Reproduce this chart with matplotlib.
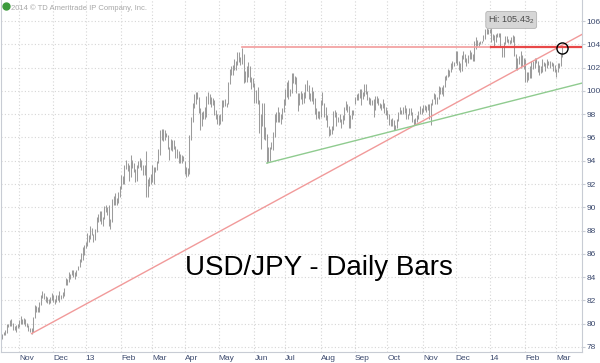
import numpy as np
import pandas as pd
import matplotlib
matplotlib.use('Agg')
import matplotlib.pyplot as plt

plt.rcParams['font.family'] = ['Liberation Sans', 'DejaVu Sans']
plt.rcParams['mathtext.fontset'] = 'custom'
plt.rcParams['mathtext.rm'] = 'Liberation Sans'

# trading days covered by the chart (weekdays only)
start, end = '2012-10-15', '2014-03-07'

# daily lows / highs, one line per month
lows = [
    78.4, 78.6, 78.7, 79.0, 79.0, 79.2, 79.7, 79.8, 79.8, 79.5, 79.5, 79.3, 79.6,  # Oct 12
    79.7, 80.0, 80.0, 80.0, 79.8, 79.7, 79.4, 79.3, 79.1, 79.3, 80.5, 81.0, 81.0, 81.0, 81.6, 82.2, 82.1, 81.9, 81.8, 81.7, 81.8, 82.0,  # Nov
    81.9, 81.7, 81.9, 82.0, 81.9, 82.1, 82.2, 82.4, 83.3, 83.3, 83.6, 83.8, 84.2, 84.0, 83.8, 84.1, 84.6, 84.9, 85.3, 85.5, 85.9,  # Dec
    86.5, 86.7, 87.0, 87.3, 87.6, 87.0, 87.2, 87.9, 88.7, 88.8, 88.6, 88.4, 89.0, 89.6, 89.3, 88.4, 88.1, 88.7, 90.2, 90.2, 90.2, 90.4, 90.9,  # Jan 13
    91.6, 92.0, 92.0, 93.3, 93.1, 92.3, 92.6, 93.4, 93.0, 92.2, 92.3, 93.4, 93.5, 93.2, 92.8, 92.8, 90.9, 90.9, 91.8, 92.0,  # Feb
    92.2, 92.0, 93.0, 93.2, 93.8, 94.5, 95.8, 95.7, 95.8, 96.0, 95.0, 94.1, 94.9, 94.8, 95.0, 94.2, 94.2, 93.8, 93.8, 93.8, 94.0,  # Mar
    92.9, 92.6, 92.7, 92.9, 95.8, 97.3, 98.5, 98.9, 99.3, 98.1, 96.6, 97.0, 97.6, 97.6, 97.8, 98.9, 98.9, 98.6, 98.8, 97.9, 97.6, 97.2,  # Apr
    97.1, 97.2, 97.4, 98.6, 98.7, 98.6, 98.9, 100.6, 101.4, 101.4, 101.8, 101.8, 102.2, 102.5, 102.2, 102.3, 100.7, 100.8, 100.8, 101.2, 100.8, 100.2, 100.3,  # May
    99.0, 99.0, 98.9, 96.4, 95.0, 97.0, 95.9, 95.8, 93.8, 93.9, 94.0, 95.0, 94.9, 96.0, 97.3, 97.3, 97.3, 97.2, 97.6, 98.2,  # Jun
    98.8, 99.5, 99.3, 99.6, 99.8, 100.7, 100.6, 99.8, 98.3, 98.8, 99.3, 98.9, 99.0, 99.4, 100.0, 99.3, 99.1, 99.1, 98.9, 98.0, 97.6, 97.7, 97.6,  # Jul
    97.8, 98.8, 97.8, 97.5, 96.9, 96.1, 96.2, 96.3, 96.6, 97.8, 97.0, 97.3, 97.3, 96.8, 97.2, 97.5, 98.4, 98.2, 96.8, 96.8, 97.6, 97.9,  # Aug
    98.9, 99.2, 99.2, 99.4, 98.8, 99.3, 99.6, 99.7, 99.2, 98.9, 98.8, 98.8, 97.8, 98.4, 99.0, 98.8, 98.5, 98.4, 98.5, 98.1, 97.9,  # Sep
    97.6, 97.1, 97.0, 97.0, 96.6, 96.6, 96.8, 97.4, 98.0, 98.0, 98.0, 98.1, 97.6, 97.6, 97.9, 97.9, 97.3, 97.1, 97.1, 97.3, 97.6, 98.0, 98.0,  # Oct
    98.2, 98.4, 98.2, 98.4, 97.6, 97.1, 98.8, 99.3, 98.9, 98.9, 99.3, 99.7, 99.7, 99.6, 100.3, 100.9, 101.2, 101.3, 101.6, 101.9, 102.1,  # Nov
    102.4, 102.2, 101.8, 101.6, 101.7, 102.7, 102.5, 102.1, 102.4, 102.7, 102.7, 102.6, 102.6, 103.6, 103.9, 103.9, 104.0, 104.1, 104.3, 104.5, 104.9, 104.9,  # Dec
    105.0, 104.2, 104.4, 103.9, 104.2, 104.6, 104.6, 103.8, 102.9, 102.9, 104.0, 104.2, 104.1, 104.0, 104.1, 104.2, 103.0, 101.9, 101.8, 102.3, 102.0, 102.1, 101.9,  # Jan 14
    100.8, 100.75, 100.9, 101.1, 101.1, 101.9, 102.0, 102.4, 101.6, 101.4, 101.5, 101.6, 102.1, 101.7, 102.0, 102.2, 102.0, 102.1, 101.7, 101.6,  # Feb
    101.2, 101.6, 102.0, 102.1, 102.9,  # Mar
]
highs = [
    78.9, 78.9, 79.1, 79.3, 79.5, 80.0, 80.0, 80.3, 80.4, 80.1, 79.8, 79.9, 80.0,
    80.3, 80.7, 80.4, 80.5, 80.4, 80.1, 79.9, 79.6, 79.6, 80.6, 81.6, 81.5, 81.4, 81.9, 82.5, 82.8, 82.6, 82.4, 82.3, 82.1, 82.3, 82.6,
    82.5, 82.1, 82.5, 82.5, 82.8, 82.5, 82.7, 83.1, 83.9, 83.8, 84.4, 84.3, 84.6, 84.6, 84.4, 84.6, 85.0, 85.6, 86.1, 86.6, 86.8,
    87.0, 87.8, 87.6, 88.4, 88.2, 87.7, 88.1, 89.2, 89.4, 89.7, 89.7, 89.2, 90.1, 90.2, 90.0, 90.2, 89.0, 90.7, 91.0, 91.2, 90.8, 91.3, 91.8,
    92.8, 92.7, 93.6, 94.1, 93.8, 93.6, 94.5, 94.1, 93.8, 93.3, 93.6, 94.0, 94.2, 94.1, 93.6, 93.6, 94.8, 92.4, 92.6, 92.9,
    93.6, 93.5, 93.5, 94.0, 95.0, 96.6, 96.7, 96.7, 96.6, 96.4, 96.2, 95.2, 95.9, 95.8, 95.8, 95.3, 95.0, 94.8, 94.6, 94.5, 94.4,
    94.0, 93.5, 93.4, 96.2, 97.8, 99.0, 99.7, 99.9, 99.9, 99.5, 98.5, 98.2, 98.3, 98.6, 99.6, 99.9, 99.7, 99.5, 99.4, 99.2, 98.4, 98.0,
    97.9, 98.0, 99.2, 99.2, 99.3, 99.0, 100.8, 101.9, 102.1, 102.2, 102.7, 102.6, 103.3, 103.3, 102.9, 103.7, 103.2, 101.7, 102.1, 102.5, 102.1, 101.2, 101.1,
    100.7, 100.1, 100.3, 99.2, 98.0, 99.0, 99.0, 96.9, 96.3, 95.2, 95.2, 95.6, 96.5, 98.0, 98.2, 98.6, 98.2, 98.0, 98.5, 99.3,
    100.2, 100.8, 100.9, 100.2, 101.5, 101.5, 101.3, 101.2, 99.8, 99.8, 100.0, 99.8, 99.9, 100.6, 100.9, 100.5, 99.8, 100.3, 100.0, 99.4, 98.5, 98.3, 98.3,
    99.2, 99.9, 99.0, 98.6, 97.9, 97.0, 96.7, 97.0, 98.3, 98.4, 98.2, 97.8, 98.0, 97.6, 97.9, 98.6, 99.1, 98.9, 98.7, 97.9, 98.4, 98.4,
    99.5, 99.7, 99.8, 100.2, 100.2, 99.9, 100.6, 100.6, 100.0, 99.5, 99.4, 99.2, 99.3, 99.6, 99.6, 99.4, 99.0, 98.9, 99.3, 99.0, 98.6,
    98.4, 98.0, 97.6, 97.7, 97.5, 97.1, 97.6, 98.2, 98.6, 98.4, 98.6, 98.8, 98.5, 98.0, 98.5, 98.5, 98.2, 97.6, 97.7, 97.9, 98.3, 98.7, 98.5,
    98.8, 98.8, 98.7, 98.9, 98.9, 99.0, 99.3, 99.8, 99.7, 99.5, 100.4, 100.3, 100.3, 100.5, 101.3, 101.4, 101.9, 101.8, 102.4, 102.6, 102.5,
    103.4, 103.4, 102.6, 102.4, 103.1, 103.4, 103.2, 102.8, 103.1, 103.5, 103.3, 103.2, 104.3, 104.6, 104.4, 104.2, 104.3, 104.3, 104.8, 105.3, 105.4, 105.3,
    105.3, 105.43, 104.9, 104.8, 104.9, 105.0, 105.0, 105.0, 103.9, 104.2, 104.7, 104.7, 104.5, 104.4, 104.6, 104.8, 104.7, 103.2, 102.8, 103.0, 103.4, 103.1, 102.8,
    102.7, 101.6, 101.6, 102.1, 102.6, 102.6, 102.8, 102.8, 102.6, 102.2, 102.1, 102.7, 102.5, 102.4, 102.7, 102.6, 102.6, 102.5, 102.4, 102.2,
    101.9, 102.4, 102.4, 103.2, 103.76,
]

title = 'USD/JPY - Daily Bars'
hi_label = 'Hi: 105.43$_2$'
credit = '2014 \u00a9 TD Ameritrade IP Company, Inc.'
red_trend = [('2012-11-13', 79.15), ('2013-10-24', 97.0)]
green_trend = [('2013-06-13', 93.8), ('2013-10-08', 96.6)]
resistance = [('2013-05-22', 103.74), ('2014-01-02', 103.74)]
circled = ('2014-03-07', 103.7)
months = pd.date_range('2012-11-01', '2014-03-01', freq='MS')
month_names = ['Nov', 'Dec', '13', 'Feb', 'Mar', 'Apr', 'May', 'Jun', 'Jul', 'Aug',
               'Sep', 'Oct', 'Nov', 'Dec', '14', 'Feb', 'Mar']
yticks = list(range(78, 107, 2))

days = pd.bdate_range(start, end)
assert len(days) == len(lows) == len(highs), (len(days), len(lows), len(highs))
idx = np.arange(len(days))
day_pos = pd.Series(idx, index=days)


def ix(d):
    return day_pos[day_pos.index >= pd.Timestamp(d)].iloc[0]


fig = plt.figure(figsize=(6, 3.63), dpi=100)
ax = fig.add_axes([0.002, 11 / 363, 0.968, 352 / 363])

px_day = 1.548
x0 = ix('2012-11-01') - 18 / px_day
x1 = x0 + 581 / px_day
ax.set_xlim(x0, x1)
ax.set_ylim(77.57, 107.81)

ax.vlines(idx, lows, highs, color='#9c9c9c', lw=0.75, zorder=2)


def trend(pts, color, lw):
    (da, pa), (db, pb) = pts
    xa, xb = ix(da), ix(db)
    slope = (pb - pa) / (xb - xa)
    ax.plot([xa, x1], [pa, pa + slope * (x1 - xa)], color=color, lw=lw, zorder=3)


trend(red_trend, '#f19a9a', 1.0)
trend(green_trend, '#8fcb8f', 1.0)
ax.plot([ix(resistance[0][0]), x1], [resistance[0][1]] * 2, color='#f29c9c', lw=1.2, zorder=3)
ax.plot([ix(resistance[1][0]), x1], [resistance[1][1]] * 2, color='#e84848', lw=1.6, zorder=3)
ax.plot(ix(circled[0]), circled[1], 'o', mfc='none', mec='black', mew=1.0, ms=8, zorder=4)

ax.text(ix('2014-01-02') - 2, 106.1, hi_label, fontsize=6.5, color='#4a4a4a',
        ha='left', va='center', zorder=5,
        bbox=dict(boxstyle='round,pad=0.25', fc='#d6d6d6', ec='#b4b4b4', lw=0.6))
ax.text(318 / 582, (352 - 275) / 352, title, transform=ax.transAxes,
        fontsize=20, ha='center', va='baseline', color='black', zorder=5)
fig.text(11 / 600, 1 - 8 / 363, credit, fontsize=5.5, color='#a8a8a8', va='center')
ax.plot(5 / 582, 1 - 6 / 352, 'o', color='#3c9a3c', ms=5, transform=ax.transAxes,
        clip_on=False, zorder=6)

ax.set_xticks([ix(m) for m in months])
ax.set_xticklabels(month_names)
for lab in ax.get_xticklabels():
    lab.set_horizontalalignment('left')
ax.set_yticks(yticks)
ax.yaxis.tick_right()
ax.tick_params(axis='x', length=0, pad=2, labelsize=6, labelcolor='#3c4a6e')
ax.tick_params(axis='y', length=2, pad=1, labelsize=6, labelcolor='#3c4a6e', color='#c8ccd4')
ax.grid(True, color='#d6d6d6', linestyle=(0, (1, 2)), linewidth=0.8, zorder=0)
for side in ['left', 'right', 'bottom']:
    ax.spines[side].set_color('#c8ccd4')
ax.spines['top'].set_visible(False)

fig.savefig('out.png', dpi=100)
